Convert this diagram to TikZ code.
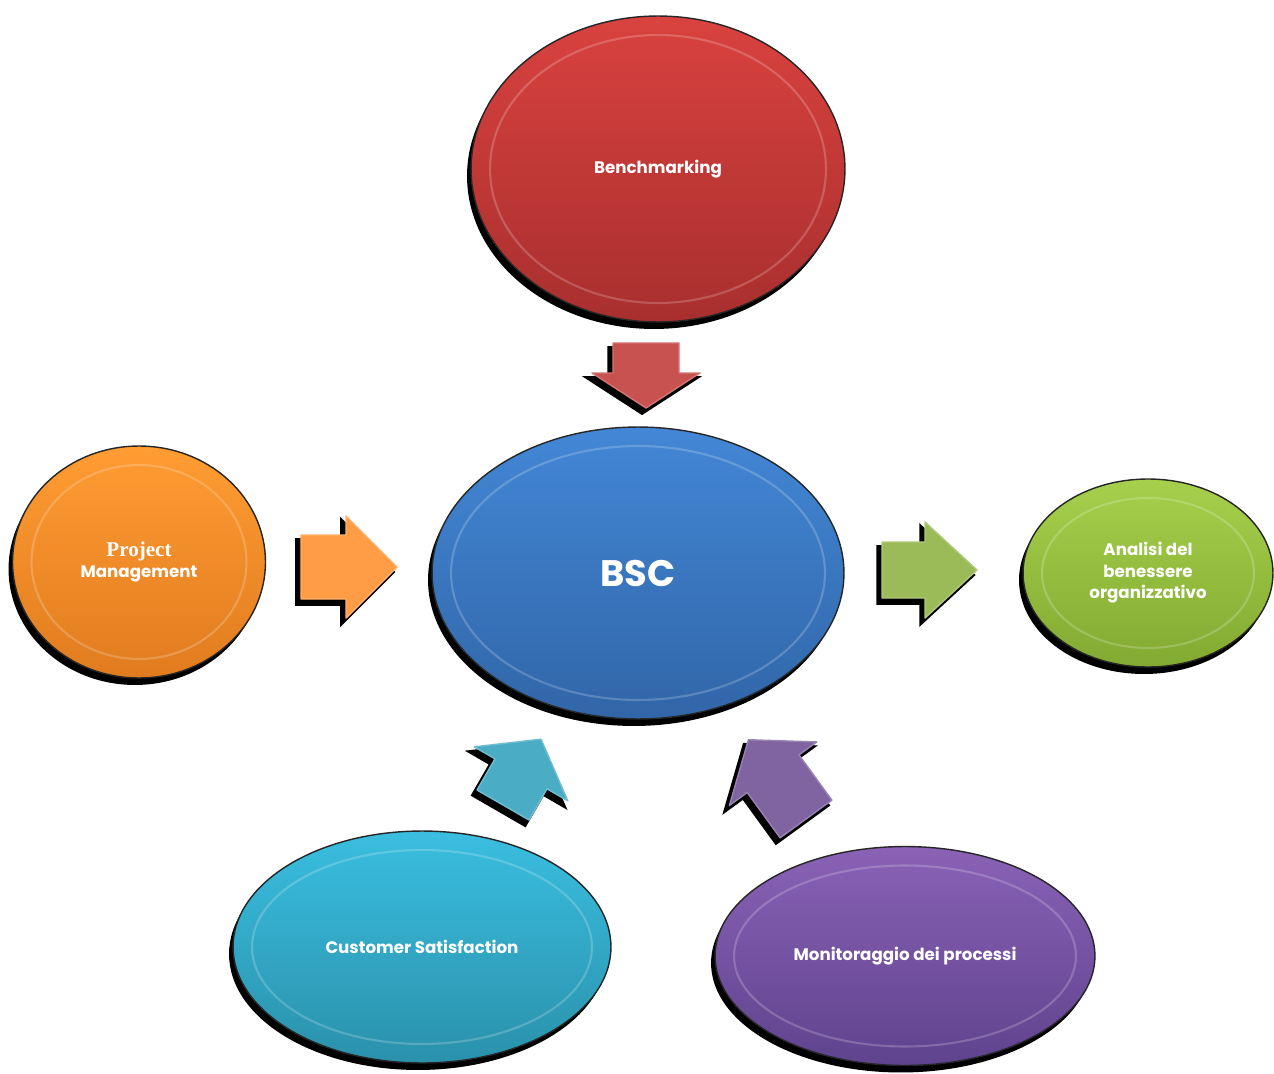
\documentclass[tikz,border=0pt]{standalone}
\usepackage{fontspec}
\usepackage{tikz}
\newfontfamily\lblfont{Poppins}
\newfontfamily\serfont{Liberation Serif}
\usetikzlibrary{shapes.geometric, shadows, calc}
\definecolor{redtop}{HTML}{D9423F}
\definecolor{redbot}{HTML}{A82F2E}
\definecolor{bluetop}{HTML}{4387D6}
\definecolor{bluebot}{HTML}{3166A8}
\definecolor{orangetop}{HTML}{FF9C32}
\definecolor{orangebot}{HTML}{E07C1F}
\definecolor{greentop}{HTML}{A6D04C}
\definecolor{greenbot}{HTML}{82AA32}
\definecolor{cyantop}{HTML}{3ABEE0}
\definecolor{cyanbot}{HTML}{2A91AB}
\definecolor{purpletop}{HTML}{8A62B6}
\definecolor{purplebot}{HTML}{5F438E}
\definecolor{redarr}{HTML}{C85250}
\definecolor{orangearr}{HTML}{FF9C45}
\definecolor{greenarr}{HTML}{9BBB59}
\definecolor{cyanarr}{HTML}{4BACC6}
\definecolor{purplearr}{HTML}{8064A2}
\tikzset{
  ring/.style={white, opacity=.2, line width=1.2pt},
  blob/.style 2 args={ellipse, draw=black!85, line width=0.8pt,
    top color=#1, bottom color=#2, text=white, align=center,
    font=\lblfont\bfseries\fontsize{9.5}{12.2}\selectfont,
    drop shadow={shadow xshift=-0.08cm, shadow yshift=-0.14cm, opacity=1, fill=black},
    path picture={\draw[ring] let \p1=($(path picture bounding box.north east)-(path picture bounding box.center)$) in
      (path picture bounding box.center) ellipse [x radius=\x1-0.38cm, y radius=\y1-0.38cm];}},
  arrowbody/.style={fill=#1, draw=#1!80!white, line width=0.8pt, line join=round,
    drop shadow={shadow xshift=-0.08cm, shadow yshift=-0.1cm, opacity=1, fill=black, draw=black, line width=2pt}},
  pics/fatarrow/.style args={#1/#2/#3/#4/#5}{code={
    \fill[arrowbody=#1] (0,-#4) -- ({#2-#3},-#4) -- ({#2-#3},-#5) -- (#2,0)
      -- ({#2-#3},#5) -- ({#2-#3},#4) -- (0,#4) -- cycle;}}
}
\begin{document}
\begin{tikzpicture}[x=0.02cm, y=-0.02cm]
  \useasboundingbox (0,0) rectangle (1274,1074);
  \fill[white] (0,0) rectangle (1274,1074);
  % ellipses
  \node[blob={redtop}{redbot}, minimum width=7.48cm, minimum height=6.12cm] (bench) at (658,169) {Benchmarking};
  \node[blob={bluetop}{bluebot}, minimum width=8.24cm, minimum height=5.84cm,
    font=\lblfont\bfseries\fontsize{21}{25}\selectfont] (bsc) at (638,573) {BSC};
  \node[blob={orangetop}{orangebot}, minimum width=5.06cm, minimum height=4.64cm] (pm) at (139,562)
    {{\serfont\fontsize{12}{13}\selectfont Project}\\Management};
  \node[blob={greentop}{greenbot}, minimum width=5.0cm, minimum height=3.76cm] (ana) at (1148,573)
    {Analisi del\\benessere\\organizzativo};
  \node[blob={cyantop}{cyanbot}, minimum width=7.56cm, minimum height=4.64cm] (cust) at (422,947) {Customer Satisfaction};
  \node[blob={purpletop}{purplebot}, minimum width=7.6cm, minimum height=4.38cm] (mon) at (905,956) {Monitoraggio dei processi};
  % block arrows
  \pic[rotate=-90] at (646,343) {fatarrow=redarr/65/35/33/54};
  \pic at (301,567) {fatarrow=orangearr/96/51/32/51};
  \pic at (882,570) {fatarrow=greenarr/95/52/28/48};
  \pic[rotate=60] at (503,805) {fatarrow=cyanarr/76/40/30/54};
  \pic[rotate=126] at (806,819) {fatarrow=purplearr/98/42/32/54};
\end{tikzpicture}
\end{document}
